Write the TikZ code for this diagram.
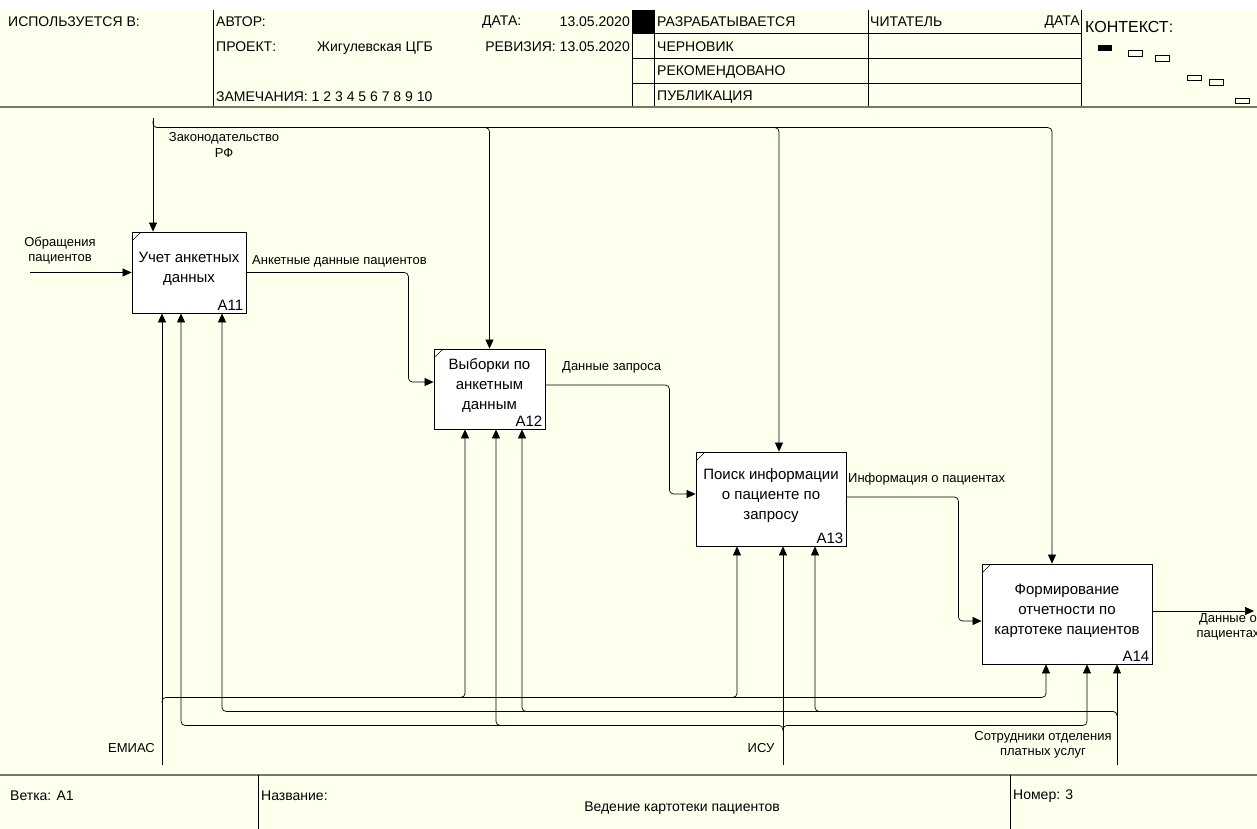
\documentclass[tikz,border=0pt]{standalone}
\usepackage{fontspec}
\setmainfont{Liberation Sans}
\usetikzlibrary{arrows.meta,positioning}
\definecolor{paper}{RGB}{255,255,238}
\definecolor{rulegrey}{RGB}{120,120,104}

\begin{document}
\begin{tikzpicture}[x=1pt, y=-1pt,
    block/.style={rectangle, draw, line width=0.8pt, fill=white, align=center, text depth=10pt, font=\fontsize{15}{20}\selectfont,
        path picture={\draw[line width=0.6pt] ([yshift=-9pt]path picture bounding box.north west) -- ([xshift=9pt]path picture bounding box.north west);}},
    tag/.style={anchor=south east, inner sep=3pt, font=\fontsize{15}{17}\selectfont},
    arrow/.style={-{Triangle[length=9pt,width=8pt]}, line width=0.7pt, rounded corners=4pt},
    lbl/.style={font=\fontsize{13}{15}\selectfont, align=center, inner sep=0pt},
    hdr/.style={font=\fontsize{14}{16}\selectfont, anchor=west, inner sep=0pt},
    frame/.style={line width=0.7pt},
    thickrule/.style={rulegrey, line width=2.5pt}
]
    \useasboundingbox (0,0) rectangle (1257,829);
    \clip (0,0) rectangle (1257,829);
    \fill[paper] (0,10) rectangle (1257,829);

    \draw[frame] (213,10) -- (213,107) (632,10) -- (632,107) (654,10) -- (654,107)
        (868,10) -- (868,107) (1081,10) -- (1081,107);
    \draw[frame] (632,33) -- (1081,33) (632,58) -- (1081,58) (632,83) -- (1081,83);
    \fill (632,10) rectangle (654,33);
    \draw[thickrule] (0,107) -- (1257,107);
    \draw[thickrule] (0,775) -- (1257,775);
    \draw[frame] (258,775) -- (258,829) (1010,775) -- (1010,829);

    \node[hdr] (usedin) at (8,22) {ИСПОЛЬЗУЕТСЯ В:};
    \node[hdr] (author) at (216,22) {АВТОР:};
    \node[hdr] (project) at (216,47) {ПРОЕКТ:};
    \node[hdr] (projname) at (317,48) {Жигулевская ЦГБ};
    \node[hdr] (notes) at (216,97) {ЗАМЕЧАНИЯ: 1 2 3 4 5 6 7 8 9 10};
    \node[hdr] (date) at (482,22) {ДАТА:};
    \node[hdr, anchor=east] (dateval) at (630,22) {13.05.2020};
    \node[hdr, anchor=east] (rev) at (630,47) {РЕВИЗИЯ: 13.05.2020};
    \node[hdr] (working) at (657,22) {РАЗРАБАТЫВАЕТСЯ};
    \node[hdr] (draft) at (657,47) {ЧЕРНОВИК};
    \node[hdr] (recom) at (657,72) {РЕКОМЕНДОВАНО};
    \node[hdr] (publ) at (657,97) {ПУБЛИКАЦИЯ};
    \node[hdr] (reader) at (870,22) {ЧИТАТЕЛЬ};
    \node[hdr, anchor=east] (rdate) at (1080,22) {ДАТА};
    \node[hdr, font=\fontsize{16}{18}\selectfont] (context) at (1085,27) {КОНТЕКСТ:};
    \fill (1098,45) rectangle (1112,51);
    \draw[line width=0.5pt] (1128,50) rectangle (1142,56) (1155,55) rectangle (1169,61)
        (1187,75) rectangle (1201,80) (1209,79) rectangle (1223,85) (1235,98) rectangle (1249,103);

    \node[hdr] (node) at (10,796) {Ветка: A1};
    \node[hdr] (title) at (261,796) {Название:};
    \node[hdr, anchor=center] (titletext) at (682,808) {Ведение картотеки пациентов};
    \node[hdr] (number) at (1013,796) {Номер: 3};

    \node[block, minimum width=114pt, minimum height=81pt, label={[tag]south east:A11}] (a11) at (189,272.5) {Учет анкетных\\данных};
    \node[block, minimum width=111pt, minimum height=80pt, label={[tag]south east:A12}] (a12) at (489.5,389) {Выборки по\\анкетным\\данным};
    \node[block, minimum width=150pt, minimum height=94pt, label={[tag]south east:A13}] (a13) at (771,499) {Поиск информации\\о пациенте по\\запросу};
    \node[block, minimum width=170pt, minimum height=100pt, label={[tag]south east:A14}] (a14) at (1067,614) {Формирование\\отчетности по\\картотеке пациентов};

    \coordinate (inp) at (30,272.5);
    \coordinate (out) at (1254,611);
    \coordinate (law) at (153,118);
    \coordinate (emias) at (162,765);
    \coordinate (isu) at (783,765);
    \coordinate (staff) at (1117,765);

    \draw[arrow] (inp) -- (a11.west);
    \draw[arrow] (a11.east) -- ++(162pt,0pt) |- ([yshift=7pt]a12.west);
    \draw[arrow] ([yshift=4pt]a12.east) -- ++(124pt,0pt) |- ([yshift=5pt]a13.west);
    \draw[arrow] ([yshift=2pt]a13.east) -- ++(112pt,0pt) |- ([yshift=-7pt]a14.west);
    \draw[arrow] ([yshift=3pt]a14.east) -- (out);

    \draw[arrow] (law) -- ([xshift=-36pt]a11.north);
    \draw[arrow] ([yshift=-3pt]law) |- ([xshift=-15pt,yshift=436pt]a14.north) -- ([xshift=-15pt]a14.north);
    \draw[arrow] ([xshift=-4pt,yshift=221pt]a12.north) -| (a12.north);
    \draw[arrow] ([xshift=4pt,yshift=324pt]a13.north) -| ([xshift=8pt]a13.north);

    \draw[arrow] (emias) -- ([xshift=-27pt]a11.south);
    \draw[arrow] ([yshift=64pt]emias) |- ([xshift=-21pt,yshift=-33pt]a14.south) -- ([xshift=-21pt]a14.south);
    \draw[arrow] ([xshift=-28.5pt,yshift=-268pt]a12.south) -| ([xshift=-24.5pt]a12.south);
    \draw[arrow] ([xshift=-38pt,yshift=-151pt]a13.south) -| ([xshift=-34pt]a13.south);

    \draw[arrow] (isu) -- ([xshift=12pt]a13.south);
    \draw[arrow] ([yshift=36pt]isu) |- ([xshift=-8pt,yshift=-412pt]a11.south) -- ([xshift=-8pt]a11.south);
    \draw[arrow] ([yshift=36pt]isu) |- ([xshift=20pt,yshift=-61pt]a14.south) -- ([xshift=20pt]a14.south);
    \draw[arrow] ([xshift=10.5pt,yshift=-296pt]a12.south) -| ([xshift=6.5pt]a12.south);

    \draw[arrow] (staff) -- ([xshift=50pt]a14.south);
    \draw[arrow] ([yshift=50pt]staff) |- ([xshift=33pt,yshift=-398pt]a11.south) -- ([xshift=33pt]a11.south);
    \draw[arrow] ([xshift=36.5pt,yshift=-282pt]a12.south) -| ([xshift=32.5pt]a12.south);
    \draw[arrow] ([xshift=48pt,yshift=-165pt]a13.south) -| ([xshift=44pt]a13.south);

    \node[lbl] (inplbl) at (60,250.5) {Обращения\\пациентов};
    \node[lbl, anchor=west] (lbl1) at (252,261) {Анкетные данные пациентов};
    \node[lbl, anchor=west] (lbl2) at (562,367) {Данные запроса};
    \node[lbl, anchor=west] (lbl3) at (848,479) {Информация о пациентах};
    \node[lbl] (outlbl) at (1228,627) {Данные о\\пациентах};
    \node[lbl] (lawlbl) at (224,145) {Законодательство\\РФ};
    \node[lbl, anchor=east] (emiaslbl) at (155,748) {ЕМИАС};
    \node[lbl] (isulbl) at (761,748) {ИСУ};
    \node[lbl] (stafflbl) at (1043,745) {Сотрудники отделения\\платных услуг};
\end{tikzpicture}
\end{document}
